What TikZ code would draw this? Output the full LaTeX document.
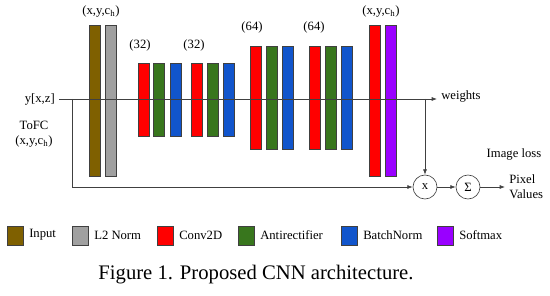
\documentclass[tikz,border=0pt]{standalone}
\usepackage{fontspec}
\setmainfont{Liberation Serif}
\usetikzlibrary{arrows.meta,positioning}
\definecolor{inputc}{RGB}{127,96,0}
\definecolor{normc}{RGB}{160,160,160}
\definecolor{convc}{RGB}{255,0,0}
\definecolor{antic}{RGB}{56,118,29}
\definecolor{bnc}{RGB}{17,85,204}
\definecolor{softc}{RGB}{153,0,255}

\begin{document}
\begin{tikzpicture}[>={Latex[length=4pt,width=3pt]},x=0.75pt,y=-0.75pt,
  font=\fontsize{9.5}{11}\selectfont,
  bar/.style={draw=black!75,line width=0.4pt},
  wire/.style={draw=black!75,line width=0.5pt},
  op/.style={circle,draw=black!75,line width=0.5pt,minimum size=18pt,inner sep=0pt}]
\useasboundingbox (0,0) rectangle (550,296);
% layers
\foreach \x/\c/\t/\b in {89/inputc/25/176,105/normc/25/176,
  138/convc/63/136,153/antic/63/136,170/bnc/63/136,
  191/convc/63/136,207/antic/63/136,223/bnc/63/136,
  250/convc/46/149,266/antic/46/149,282/bnc/46/149,
  309/convc/46/149,325/antic/46/149,341/bnc/46/149,
  369/convc/25/176,385/softc/25/176}
  \draw[bar,fill=\c] (\x,\t) rectangle (\x+11,\b);
% sizes
\node (szin) at (101,11) {(x,y,c\textsubscript{h})};
\node (sza) at (140,45) {(32)};
\node (szb) at (194,45) {(32)};
\node (szc) at (252,27) {(64)};
\node (szd) at (314,27) {(64)};
\node (szout) at (381,11) {(x,y,c\textsubscript{h})};
% signal path
\node[anchor=east,inner sep=3pt] (yin) at (59,99) {y[x,z]};
\node[anchor=west,inner sep=3pt] (weights) at (437,96) {weights};
\node[align=center] (tofc) at (34,134) {ToFC\\(x,y,c\textsubscript{h})};
\coordinate (split) at (72,99);
\coordinate (tap) at (425,99);
\node[op] (mult) at (425,187) {x};
\node[op] (sum) at (468,187) {Σ};
\node[anchor=west,align=left,inner sep=3pt] (pixel) at (505,187) {Pixel\\Values};
\node (loss) at (514,154) {Image loss};
\draw[wire,->] (yin.east) -- (yin.east -| weights.west);
\draw[wire,->] (split) |- (mult.west);
\draw[wire,->] (tap) -- (mult.north);
\draw[wire,->] (mult) -- (sum);
\draw[wire,->] (sum) -- (pixel.west);
% legend
\foreach \x/\c/\n [count=\i] in {7/inputc/Input,72/normc/L2 Norm,157/convc/Conv2D,
  238/antic/Antirectifier,341/bnc/BatchNorm,437/softc/Softmax}{
  \draw[bar,fill=\c] (\x,226) rectangle (\x+16,245);
  \node[anchor=west,inner sep=0pt] (lab\i) at (\x+22,235) {\n};
}
\node (caption) at (256,275) {\fontsize{15.5}{18}\selectfont Figure 1. Proposed CNN architecture.};
\end{tikzpicture}
\end{document}
